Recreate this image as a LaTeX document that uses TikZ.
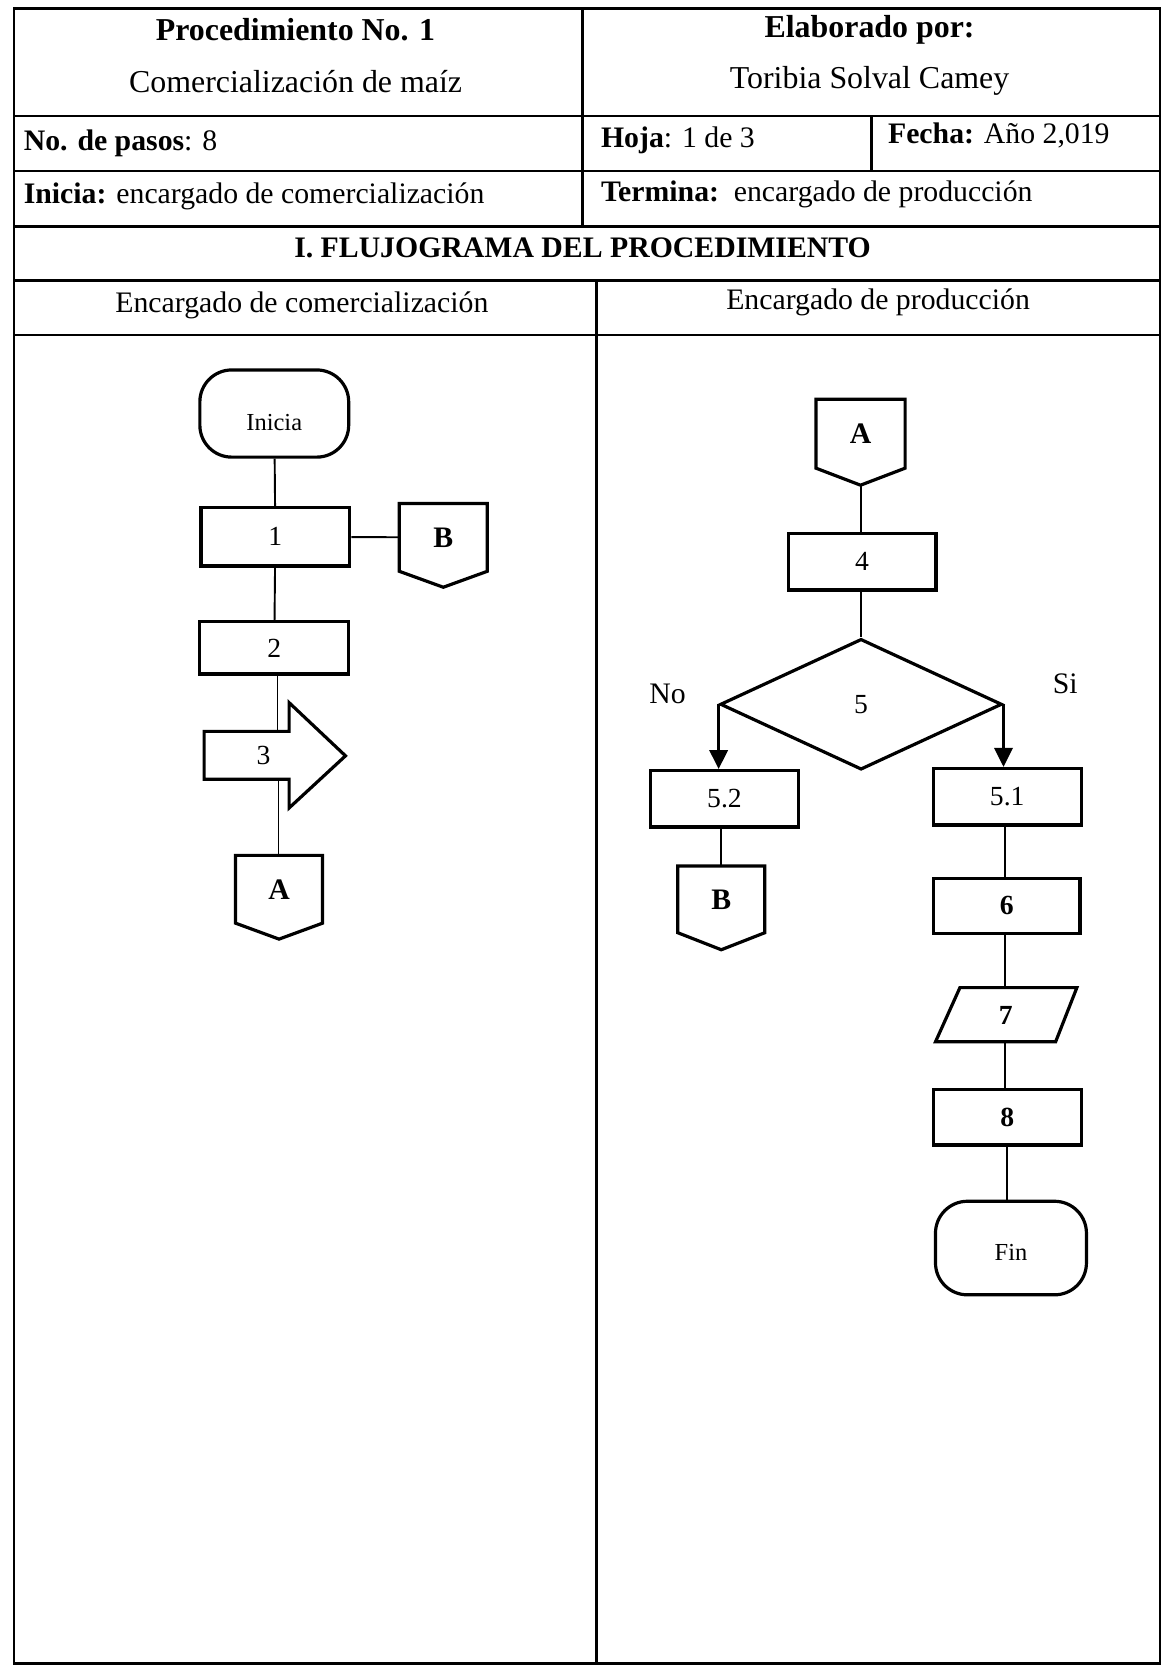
\documentclass[tikz,border=0pt]{standalone}
\usepackage{fontspec}
\setmainfont{Liberation Serif}
\usetikzlibrary{shapes.geometric,arrows.meta,calc}
\newcommand\offpg[2]{\draw[shapeline] (#1.north west) -- (#1.north east) -- (#1.south east) -- ([yshift=-#2]#1.south) -- (#1.south west) -- cycle;}
\begin{document}
\begin{tikzpicture}[x=0.5pt,y=-0.5pt,
  tline/.style={line width=1.2pt},
  box/.style={draw,line width=1.5pt,inner sep=0pt,font=\fontsize{13}{15}\selectfont},
  boxb/.style={box,font=\fontsize{13}{15}\bfseries\selectfont},
  term/.style={box,rounded corners=15pt,font=\fontsize{11.5}{13}\selectfont},
  conlbl/.style={inner sep=0pt,font=\fontsize{14}{16}\bfseries\selectfont},
  shapeline/.style={line width=1.5pt,line join=miter},
  conn/.style={line width=0.9pt},
  yesno/.style={line width=1.6pt,-{Triangle[length=9pt,width=8.5pt]}},
  hdr/.style={inner sep=0pt,anchor=base,font=\fontsize{15}{17}\selectfont},
  hdrb/.style={hdr,font=\fontsize{15}{17}\bfseries\selectfont},
  row/.style={inner sep=0pt,anchor=base west,font=\fontsize{14}{16}\selectfont},
  lane/.style={inner sep=0pt,anchor=base,font=\fontsize{14}{16}\selectfont},
  flbl/.style={inner sep=0pt,font=\fontsize{14}{16}\selectfont},
]
\useasboundingbox (0,0) rectangle (1095,1570);
% table
\draw[tline] (13,8) rectangle (1091,1565);
\foreach \yy in {109,161,213,264,315} \draw[tline] (13,\yy) -- (1091,\yy);
\draw[tline] (548,8) -- (548,213);
\draw[tline] (820,109) -- (820,161);
\draw[tline] (561,264) -- (561,1565);
% header texts
\node[hdrb] (t1) at (278,38) {Procedimiento No. 1};
\node[hdr] (t2) at (278,87) {Comercialización de maíz};
\node[hdrb] (t3) at (818,35) {Elaborado por:};
\node[hdr] (t4) at (818,83) {Toribia Solval Camey};
\node[row] (t5) at (22,142) {\textbf{No. de pasos}: 8};
\node[row] (t6) at (565,139) {\textbf{Hoja}: 1 de 3};
\node[row] (t7) at (835,135) {\textbf{Fecha:} Año 2,019};
\node[row] (t8) at (22,191) {\textbf{Inicia:} encargado de comercialización};
\node[row] (t9) at (565,190) {\textbf{Termina:}\ \ encargado de producción};
\node[lane,font=\fontsize{14}{16}\bfseries\selectfont] (t10) at (548,242) {I. FLUJOGRAMA DEL PROCEDIMIENTO};
\node[lane] (t11) at (284,294) {Encargado de comercialización};
\node[lane] (t12) at (826,291) {Encargado de producción};
% left lane
\node[term,minimum width=70pt,minimum height=41pt,text height=16pt,text depth=0pt] (ini) at (258,389) {Inicia};
\node[box,minimum width=70pt,minimum height=27.5pt] (b1) at (259,505) {1};
\node[box,minimum width=70pt,minimum height=24.5pt] (b2) at (258,609.5) {2};
\node[conlbl,minimum width=41pt,minimum height=31.5pt] (Bl) at (417,505.5) {B};
\offpg{Bl}{7.5pt}
\draw[shapeline] (192,688) -- (272,688) -- (272,661) -- (325,711) -- (272,760) -- (272,733) -- (192,733) -- cycle;
\node[inner sep=0pt,font=\fontsize{13}{15}\selectfont] (s3) at (248,711) {3};
\coordinate (a3top) at (261,688);
\coordinate (a3bot) at (262,733);
\node[conlbl,minimum width=40.5pt,minimum height=31.5pt] (Al) at (262.5,836.5) {A};
\offpg{Al}{7.5pt}
\draw[conn] (ini) -- (b1);
\draw[conn] (b1) -- (b2);
\draw[conn] (b1) -- (Bl);
\draw[conn] (b2.south -| a3top) -- (a3top);
\draw[conn] (a3bot) -- (Al.north -| a3bot);
% right lane
\node[conlbl,minimum width=41.5pt,minimum height=32pt] (Ar) at (809.5,408) {A};
\offpg{Ar}{8pt}
\node[box,minimum width=69.5pt,minimum height=26.5pt] (b4) at (811,528.5) {4};
\node[diamond,draw,line width=1.5pt,minimum width=132.5pt,minimum height=61.5pt,inner sep=0pt,font=\fontsize{13}{15}\selectfont] (d5) at (810,662.5) {5};
\node[box,minimum width=69.5pt,minimum height=26.5pt] (b52) at (681.5,751.5) {5.2};
\node[box,minimum width=69.5pt,minimum height=26.5pt] (b51) at (947.5,749.5) {5.1};
\node[flbl] (no) at (628,653) {No};
\node[flbl] (si) at (1002,643) {Si};
\node[conlbl,minimum width=40.5pt,minimum height=31pt] (Br) at (678.5,846) {B};
\offpg{Br}{8pt}
\node[boxb,minimum width=69pt,minimum height=26pt] (b6) at (947,852) {6};
\draw[shapeline] (903,929) -- (1013,929) -- (993,980) -- (880,980) -- cycle;
\node[inner sep=0pt,font=\fontsize{13}{15}\bfseries\selectfont] (p7) at (946,955) {7};
\coordinate (p7top) at (945,929);
\coordinate (p7bot) at (945,980);
\node[boxb,minimum width=69.5pt,minimum height=26pt] (b8) at (947.5,1051) {8};
\node[term,minimum width=71pt,minimum height=44pt,text height=11.5pt,text depth=0pt] (fin) at (951,1174) {Fin};
\draw[conn] ([yshift=-8pt]Ar.south) -- (Ar.south |- b4.north);
\draw[conn] (b4.south -| d5.north) -- (d5.north);
\draw[yesno] (d5.west) -- (d5.west |- b52.north);
\draw[yesno] (d5.east) -- (d5.east |- b51.north);
\draw[conn] (b52.south -| Br.north) -- (Br.north);
\draw[conn] (b51.south -| p7top) -- (b6.north -| p7top);
\draw[conn] (b6.south -| p7top) -- (p7top);
\draw[conn] (p7bot) -- (b8.north -| p7bot);
\draw[conn] (b8.south) -- (b8.south |- fin.north);
\end{tikzpicture}
\end{document}
